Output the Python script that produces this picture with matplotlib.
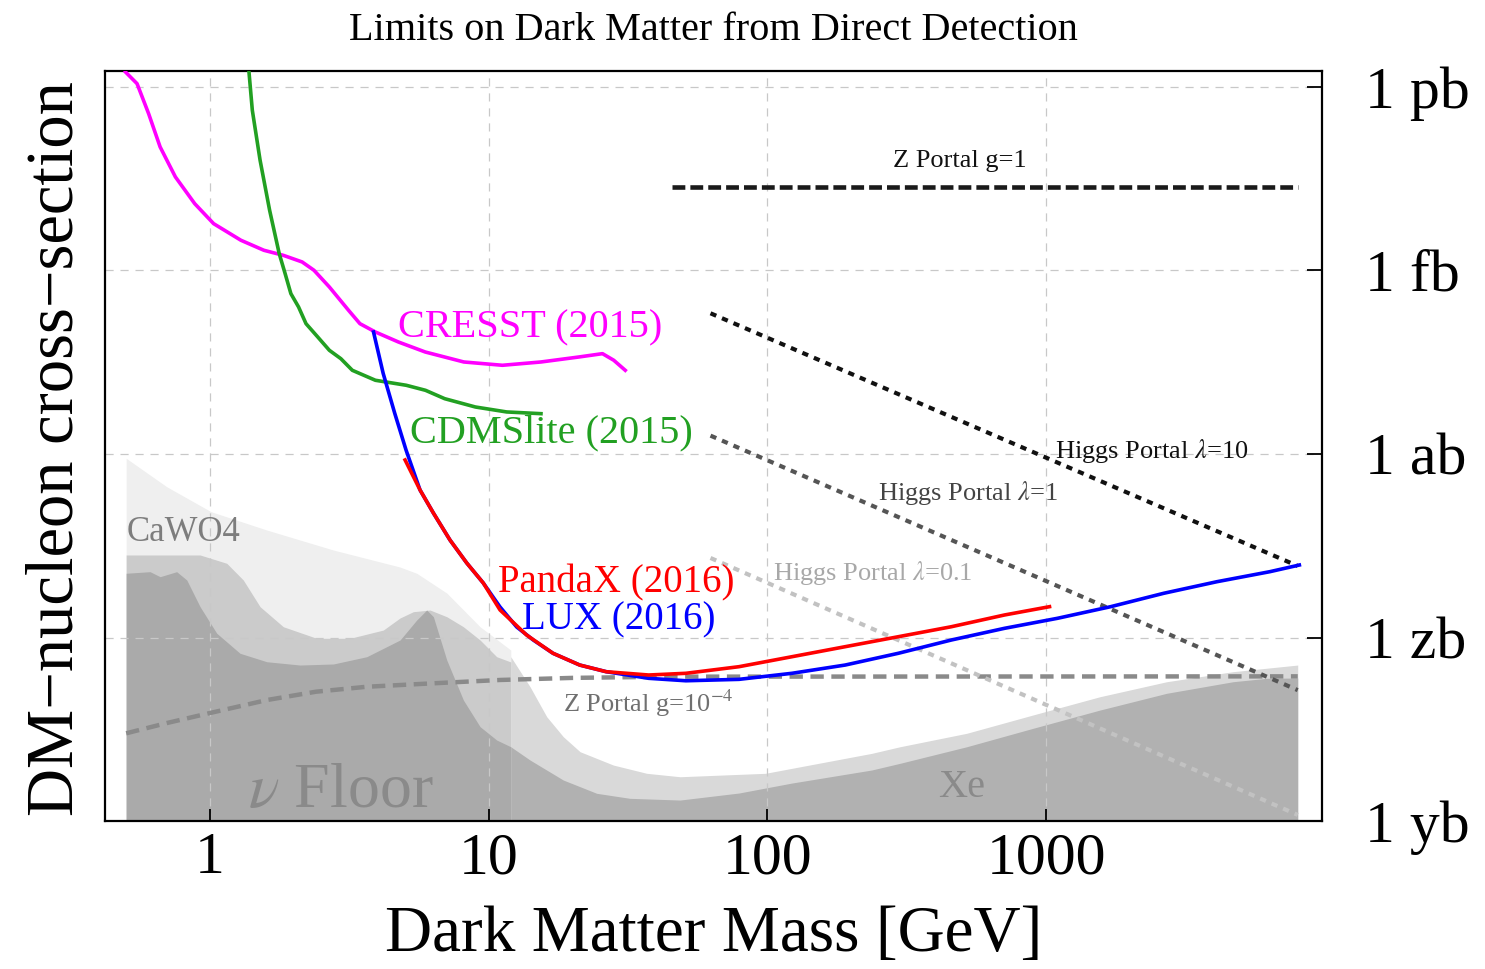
import numpy as np
import matplotlib
matplotlib.use('Agg')
import matplotlib.pyplot as plt

plt.rcParams['font.family'] = ['Liberation Serif', 'DejaVu Serif']
plt.rcParams['mathtext.fontset'] = 'stix'

# masses in GeV, cross sections as log10(sigma / cm^2)
cresst_mass = [0.497, 0.547, 0.602, 0.662, 0.751, 0.881, 1.03, 1.29, 1.56, 1.83, 2.14, 2.36, 2.68,
               3.14, 3.45, 3.92, 4.74, 5.92, 8.14, 11.2, 15.4, 21.1, 25.6, 28.1, 30.9]
cresst_logsig = [-35.755, -35.946, -36.437, -36.981, -37.471, -37.908, -38.235, -38.506, -38.670,
                 -38.752, -38.861, -38.997, -39.270, -39.651, -39.870, -40.006, -40.169, -40.333,
                 -40.496, -40.550, -40.496, -40.414, -40.360, -40.468, -40.632]

cdms_mass = [1.37, 1.418, 1.512, 1.636, 1.771, 1.858, 1.95, 2.078, 2.21, 2.434, 2.68, 2.947, 3.24, 3.92,
             5.06, 5.93, 6.95, 8.96, 11.6, 15.4]
cdms_logsig = [-35.60, -36.381, -37.198, -38.016, -38.725, -39.046, -39.379, -39.597, -39.870, -40.087,
               -40.305, -40.442, -40.632, -40.795, -40.877, -40.959, -41.096, -41.232, -41.313, -41.341]

lux_mass = [3.86, 4.18, 4.60, 5.05, 5.67, 6.33, 7.26, 8.34, 9.56, 10.98, 12.6, 14.45, 17.01, 21.21, 26.41,
            37.5, 51.0, 79.1, 122.5, 190.2, 295, 457, 709, 1099, 1706, 2645, 4101, 6355, 8109]
lux_logsig = [-40.006, -40.681, -41.335, -41.935, -42.589, -42.965, -43.406, -43.782, -44.109, -44.501,
              -44.828, -45.041, -45.258, -45.450, -45.559, -45.667, -45.707, -45.684, -45.585, -45.450,
              -45.258, -45.041, -44.850, -44.686, -44.496, -44.277, -44.088, -43.924, -43.815]

pandax_mass = [5.01, 5.67, 6.33, 7.26, 8.34, 9.56, 10.98, 13.67, 17.01, 21.21, 26.4, 37.5, 51.0, 79.1,
               122.5, 190.2, 295, 457, 709, 1029]
pandax_logsig = [-42.098, -42.589, -42.965, -43.406, -43.782, -44.109, -44.550, -44.959, -45.258, -45.450,
                 -45.559, -45.613, -45.585, -45.477, -45.314, -45.150, -44.987, -44.824, -44.632, -44.496]

zportal1_mass = [45.6, 8000]
zportal1_logsig = [-37.635, -37.635]

zportal4_mass = [0.5, 0.7, 1.0, 1.6, 2.4, 3.65, 6.3, 11, 20, 45, 8000]
zportal4_logsig = [-46.566, -46.398, -46.234, -46.022, -45.886, -45.805, -45.749, -45.694, -45.66, -45.64, -45.635]

higgs_mass = [62.5, 8000]
higgs10_logsig = [-39.70, -43.83]
higgs1_logsig = [-41.70, -45.86]
higgs01_logsig = [-43.70, -47.90]

# neutrino floor bands
cawo4_light_mass = [0.5, 0.699, 1.008, 1.598, 2.77, 4.806, 5.516, 7.07, 9.31, 12]
cawo4_light_logsig = [-42.07, -42.535, -42.943, -43.243, -43.57, -43.848, -43.95, -44.273, -44.824, -45.205]

cawo4_mid_mass = [0.5, 0.921, 1.148, 1.316, 1.512, 1.832, 2.414, 3.18, 4.186, 4.806, 5.364, 6.16, 7.07,
                  8.11, 9.31, 10.68, 12]
cawo4_mid_logsig = [-43.651, -43.651, -43.787, -44.06, -44.497, -44.824, -45.013, -45.013, -44.878, -44.681,
                    -44.578, -44.551, -44.66, -44.824, -45.041, -45.314, -45.40]

cawo4_dark_mass = [0.5, 0.609, 0.662, 0.759, 0.825, 0.921, 1.057, 1.281, 1.598, 2.103, 2.77, 3.65, 4.806,
                   5.516, 5.99, 6.33, 7.07, 8.11, 9.31, 10.68, 12]
cawo4_dark_logsig = [-43.95, -43.924, -44.006, -43.924, -44.06, -44.497, -44.931, -45.258, -45.396, -45.45,
                     -45.433, -45.314, -45.041, -44.714, -44.551, -44.66, -45.368, -46.022, -46.458, -46.676,
                     -46.786]

xe_light_mass = [12, 14.07, 16.15, 18.52, 21.27, 28.0, 36.9, 48.6, 98.4, 236.7, 299, 519, 897, 1561, 2709,
                 4685, 8000]
xe_light_logsig = [-45.314, -45.805, -46.295, -46.622, -46.867, -47.085, -47.22, -47.276, -47.22, -46.894,
                   -46.786, -46.566, -46.267, -45.968, -45.723, -45.559, -45.45]

xe_dark_mass = [12, 14.07, 18.52, 24.41, 32.1, 48.6, 79.1, 122.5, 236.7, 299, 519, 897, 1561, 2709, 4685,
                6188, 8000]
xe_dark_logsig = [-46.786, -47.003, -47.33, -47.547, -47.629, -47.657, -47.542, -47.379, -47.166, -47.057,
                  -46.786, -46.485, -46.186, -45.912, -45.723, -45.667, -45.662]

xticks = [1, 10, 100, 1000]
xticklabels = ['1', '10', '100', '1000']
yticks_log = [-36, -39, -42, -45, -48]
yticklabels = ['1 pb', '1 fb', '1 ab', '1 zb', '1 yb']


def sig(v):
    return 10.0 ** np.array(v)


fig = plt.figure(figsize=(14.85, 9.69), dpi=100)
ax = fig.add_axes([0.0707, 0.1527, 0.8195, 0.774])
ax.set_xscale('log')
ax.set_yscale('log')

floor = 1e-50
ax.fill_between(cawo4_light_mass, sig(cawo4_light_logsig), floor, color='#efefef', lw=0, zorder=1)
ax.fill_between(xe_light_mass, sig(xe_light_logsig), floor, color='#d9d9d9', lw=0, zorder=1)
ax.fill_between(cawo4_mid_mass, sig(cawo4_mid_logsig), floor, color='#cbcbcb', lw=0, zorder=1)
ax.fill_between(cawo4_dark_mass, sig(cawo4_dark_logsig), floor, color='#aaaaaa', lw=0, zorder=1)
ax.fill_between(xe_dark_mass, sig(xe_dark_logsig), floor, color='#b1b1b1', lw=0, zorder=1)

# model lines
ax.plot(zportal1_mass, sig(zportal1_logsig), color='#1a1a1a', lw=3.3, ls=(0, (2.8, 1.1)), zorder=2)
ax.plot(zportal4_mass, sig(zportal4_logsig), color='#8a8a8a', lw=3.2, ls=(0, (3.0, 1.7)), zorder=2)
ax.plot(higgs_mass, sig(higgs10_logsig), color='#111111', lw=3.0, ls=(0, (1.5, 1.5)), zorder=2)
ax.plot(higgs_mass, sig(higgs1_logsig), color='#555555', lw=3.0, ls=(0, (1.5, 1.5)), zorder=2)
ax.plot(higgs_mass, sig(higgs01_logsig), color='#c2c2c2', lw=3.0, ls=(0, (1.5, 1.5)), zorder=2)

# experimental limits
ax.plot(cresst_mass, sig(cresst_logsig), color='#ff00ff', lw=2.6, zorder=3)
ax.plot(cdms_mass, sig(cdms_logsig), color='#22a022', lw=2.6, zorder=3)
ax.plot(lux_mass, sig(lux_logsig), color='#0000ff', lw=2.6, zorder=3)
ax.plot(pandax_mass, sig(pandax_logsig), color='#ff0000', lw=2.6, zorder=3)

ax.set_xlim(10 ** -0.377, 10 ** 3.99)
ax.set_ylim(1e-48, 10 ** -35.74)

ax.set_axisbelow('line')
ax.grid(True, color='#c8c8c8', lw=0.9, ls=(0, (6.5, 5.5)))

ax.set_xticks(xticks)
ax.set_xticklabels(xticklabels)
ax.set_yticks(sig(yticks_log))
ax.set_yticklabels(yticklabels)
ax.xaxis.set_minor_locator(matplotlib.ticker.NullLocator())
ax.yaxis.set_minor_locator(matplotlib.ticker.NullLocator())
ax.yaxis.tick_right()
ax.tick_params(axis='x', direction='in', length=9, width=1.3, labelsize=43, pad=8)
ax.tick_params(axis='y', direction='in', length=11, width=1.3, labelsize=43, pad=31)
for s in ax.spines.values():
    s.set_linewidth(1.6)

ax.set_xlabel('Dark Matter Mass [GeV]', fontsize=47)
ax.xaxis.set_label_coords(0.5, -0.112)
ax.set_ylabel('DM\u2212nucleon cross\u2212section', fontsize=48)
ax.yaxis.set_label_position('left')
ax.yaxis.set_label_coords(-0.0156, 0.497)
ax.set_title('Limits on Dark Matter from Direct Detection', fontsize=29, pad=22)

# annotations
ax.text(4.73, 10 ** -39.94, 'CRESST (2015)', color='#ff00ff', fontsize=29, ha='left', va='center', zorder=4)
ax.text(5.22, 10 ** -41.657, 'CDMSlite (2015)', color='#22a022', fontsize=29, ha='left', va='center', zorder=4)
ax.text(10.8, 10 ** -44.10, 'PandaX (2016)', color='#ff0000', fontsize=28, ha='left', va='center', zorder=4)
ax.text(13.17, 10 ** -44.72, 'LUX (2016)', color='#0000ff', fontsize=28, ha='left', va='center', zorder=4)
ax.text(491, 10 ** -37.21, 'Z Portal g=1', color='#111111', fontsize=19, ha='center', va='center', zorder=4)
ax.text(1076, 10 ** -41.95, r'Higgs Portal $\lambda$=10', color='#111111', fontsize=19, ha='left', va='center', zorder=4)
ax.text(249, 10 ** -42.64, r'Higgs Portal $\lambda$=1', color='#444444', fontsize=19, ha='left', va='center', zorder=4)
ax.text(104.7, 10 ** -43.95, r'Higgs Portal $\lambda$=0.1', color='#a8a8a8', fontsize=19, ha='left', va='center', zorder=4)
ax.text(18.48, 10 ** -46.07, r'Z Portal g=10$^{-4}$', color='#707070', fontsize=19, ha='left', va='center', zorder=4)
ax.text(0.50, 10 ** -43.29, 'CaWO4', color='#7d7d7d', fontsize=25, ha='left', va='center', zorder=4)
ax.text(1.369, 10 ** -47.53, r'$\nu$ Floor', color='#8a8a8a', fontsize=46, ha='left', va='center', zorder=4)
ax.text(409.6, 10 ** -47.46, 'Xe', color='#8a8a8a', fontsize=29, ha='left', va='center', zorder=4)

plt.savefig('out.png', dpi=100)
